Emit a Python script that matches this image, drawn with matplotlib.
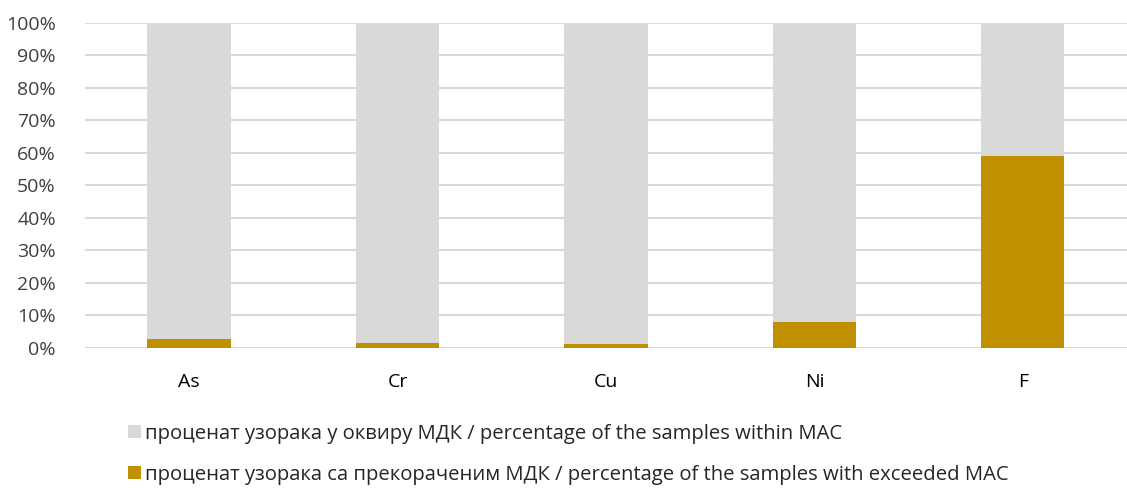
import matplotlib
matplotlib.use("Agg")
import matplotlib.pyplot as plt
import numpy as np

plt.rcParams['font.family'] = ['Open Sans', 'DejaVu Sans']

elements = ["As", "Cr", "Cu", "Ni", "F"]
exceeded = [2.8, 1.5, 1.3, 8.0, 59.2]
within = [100 - v for v in exceeded]

label_within = "проценат узорака у оквиру МДК / percentage of the samples within MAC"
label_exceeded = "проценат узорака са прекораченим МДК / percentage of the samples with exceeded MAC"

fig = plt.figure(figsize=(11.27, 4.88), dpi=100)
ax = fig.add_axes([0.0754, 0.287, 0.9246, 0.666])

x = np.arange(len(elements))
b1 = ax.bar(x, exceeded, width=0.4, color='#bf9000', zorder=3, label=label_exceeded)
b2 = ax.bar(x, within, width=0.4, bottom=exceeded, color='#d9d9d9', zorder=3, label=label_within)

ax.set_xlim(-0.5, len(elements) - 0.5)
ax.set_ylim(0, 100)
ax.set_yticks(np.arange(0, 101, 10))
ax.set_yticklabels([f"{v}%" for v in range(0, 101, 10)])
ax.set_xticks(x)
ax.set_xticklabels(elements)
ax.yaxis.grid(True, color='#d9d9d9', linewidth=1.5, zorder=0)
ax.set_axisbelow(True)
for s in ax.spines.values():
    s.set_visible(False)
ax.tick_params(axis='both', length=0)
ax.tick_params(axis='y', labelsize=14, labelcolor='#404040', pad=21)
ax.tick_params(axis='x', labelsize=14, labelcolor='black', pad=18)

fig.legend([b2, b1], [label_within, label_exceeded], loc='upper left',
           bbox_to_anchor=(0.114, 0.132), frameon=False, fontsize=14.6,
           labelcolor='#262626', handlelength=0.6, handleheight=0.6,
           handletextpad=0.2, labelspacing=1.05, borderpad=0, borderaxespad=0)

plt.savefig("out.png", dpi=100)
